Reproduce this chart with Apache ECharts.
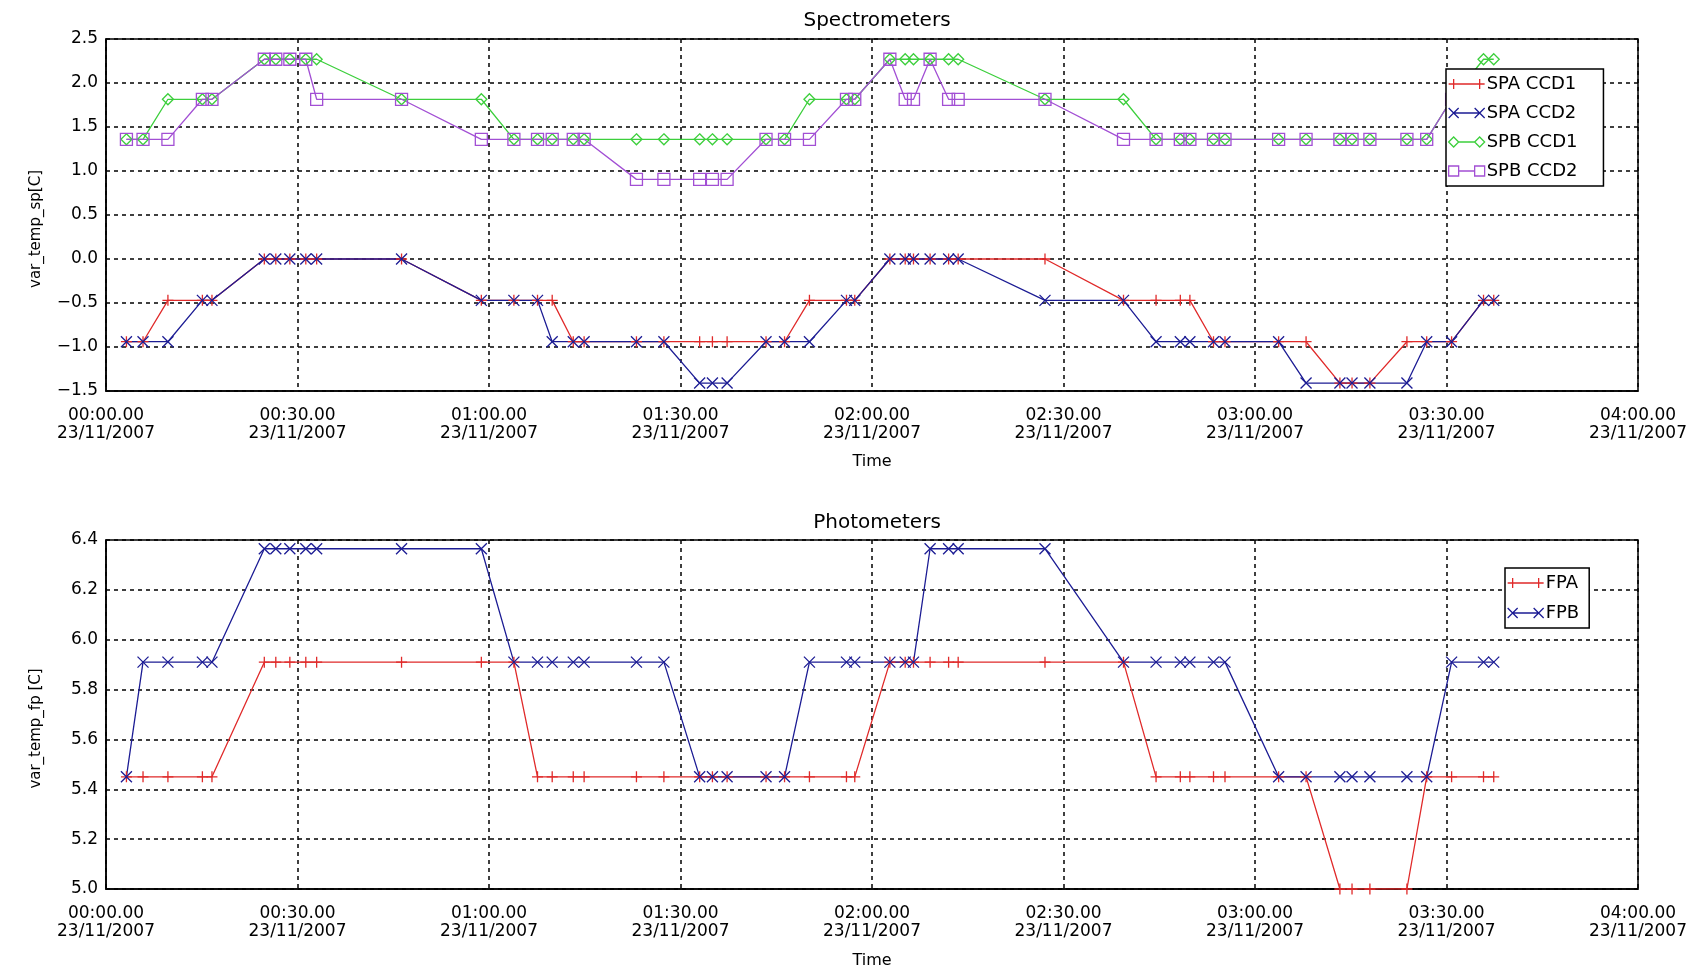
<!DOCTYPE html>
<html>
<head>
<meta charset="utf-8">
<script src="https://cdn.jsdelivr.net/npm/echarts@6/dist/echarts.min.js"></script>
<style>
  html, body { margin: 0; padding: 0; background: #fff; }
  #chart { width: 1703px; height: 971px; }
</style>
</head>
<body>
<div id="chart"></div>
<script>
// ---- Data (time in minutes after 00:00 on 23/11/2007) ----
const times = [3.2, 5.8, 9.7, 15.1, 16.6, 24.8, 26.6, 28.8, 31.3, 33.0,
  46.3, 58.8, 63.9, 67.6, 69.9, 73.2, 74.9, 83.1, 87.4, 93.0,
  95.0, 97.3, 103.4, 106.3, 110.2, 116.0, 117.3, 122.8, 125.2, 126.5,
  129.1, 132.0, 133.5, 147.1, 159.4, 164.5, 168.3, 169.8, 173.5, 175.3,
  183.7, 188.0, 193.3, 195.2, 198.0, 203.8, 206.9, 210.8, 215.8, 217.4];

const spaCcd1 = [-0.94, -0.94, -0.47, -0.47, -0.47, 0, 0, 0, 0, 0,
  0, -0.47, -0.47, -0.47, -0.47, -0.94, -0.94, -0.94, -0.94, -0.94,
  -0.94, -0.94, -0.94, -0.94, -0.47, -0.47, -0.47, 0, 0, 0,
  0, 0, 0, 0, -0.47, -0.47, -0.47, -0.47, -0.94, -0.94,
  -0.94, -0.94, -1.41, -1.41, -1.41, -0.94, -0.94, -0.94, -0.47, -0.47];

const spaCcd2 = [-0.94, -0.94, -0.94, -0.47, -0.47, 0, 0, 0, 0, 0,
  0, -0.47, -0.47, -0.47, -0.94, -0.94, -0.94, -0.94, -0.94, -1.41,
  -1.41, -1.41, -0.94, -0.94, -0.94, -0.47, -0.47, 0, 0, 0,
  0, 0, 0, -0.47, -0.47, -0.94, -0.94, -0.94, -0.94, -0.94,
  -0.94, -1.41, -1.41, -1.41, -1.41, -1.41, -0.94, -0.94, -0.47, -0.47];

const spbCcd1 = [1.36, 1.36, 1.815, 1.815, 1.815, 2.27, 2.27, 2.27, 2.27, 2.27,
  1.815, 1.815, 1.36, 1.36, 1.36, 1.36, 1.36, 1.36, 1.36, 1.36,
  1.36, 1.36, 1.36, 1.36, 1.815, 1.815, 1.815, 2.27, 2.27, 2.27,
  2.27, 2.27, 2.27, 1.815, 1.815, 1.36, 1.36, 1.36, 1.36, 1.36,
  1.36, 1.36, 1.36, 1.36, 1.36, 1.36, 1.36, 1.815, 2.27, 2.27];

const spbCcd2 = [1.36, 1.36, 1.36, 1.815, 1.815, 2.27, 2.27, 2.27, 2.27, 1.815,
  1.815, 1.36, 1.36, 1.36, 1.36, 1.36, 1.36, 0.905, 0.905, 0.905,
  0.905, 0.905, 1.36, 1.36, 1.36, 1.815, 1.815, 2.27, 1.815, 1.815,
  2.27, 1.815, 1.815, 1.815, 1.36, 1.36, 1.36, 1.36, 1.36, 1.36,
  1.36, 1.36, 1.36, 1.36, 1.36, 1.36, 1.36, 1.815, 1.815, 1.815];

const fpa = [5.45, 5.45, 5.45, 5.45, 5.45, 5.91, 5.91, 5.91, 5.91, 5.91,
  5.91, 5.91, 5.91, 5.45, 5.45, 5.45, 5.45, 5.45, 5.45, 5.45,
  5.45, 5.45, 5.45, 5.45, 5.45, 5.45, 5.45, 5.91, 5.91, 5.91,
  5.91, 5.91, 5.91, 5.91, 5.91, 5.45, 5.45, 5.45, 5.45, 5.45,
  5.45, 5.45, 5.0, 5.0, 5.0, 5.0, 5.45, 5.45, 5.45, 5.45];

const fpb = [5.45, 5.91, 5.91, 5.91, 5.91, 6.365, 6.365, 6.365, 6.365, 6.365,
  6.365, 6.365, 5.91, 5.91, 5.91, 5.91, 5.91, 5.91, 5.91, 5.45,
  5.45, 5.45, 5.45, 5.45, 5.91, 5.91, 5.91, 5.91, 5.91, 5.91,
  6.365, 6.365, 6.365, 6.365, 5.91, 5.91, 5.91, 5.91, 5.91, 5.91,
  5.45, 5.45, 5.45, 5.45, 5.45, 5.45, 5.45, 5.91, 5.91, 5.91];

const xTicks = [0, 30, 60, 90, 120, 150, 180, 210, 240];
const dateLabel = '23/11/2007';
const topSeriesNames = ['SPA CCD1', 'SPA CCD2', 'SPB CCD1', 'SPB CCD2'];
const bottomSeriesNames = ['FPA', 'FPB'];

// ---- Styles ----
const RED = '#e02a2a', BLUE = '#1c1c94', GREEN = '#3ccf3c', PURPLE = '#a24fd4';
const FONT = 'DejaVu Sans';
const SYM = {
  plus: 'path://M5,0L5,10M0,5L10,5',
  cross: 'path://M0,0L10,10M10,0L0,10',
  diamond: 'path://M5,0L10,5L5,10L0,5Z',
  square: 'path://M0,0L10,0L10,10L0,10Z'
};
const ICON = {
  plus: 'path://M5,0L5,10M0,5L36,5M31,0L31,10',
  cross: 'path://M0,0L10,10M10,0L0,10M5,5L31,5M26,0L36,10M36,0L26,10',
  diamond: 'path://M0,5L5,0L10,5L5,10ZM10,5L26,5M26,5L31,0L36,5L31,10Z',
  square: 'path://M0,0L10,0L10,10L0,10ZM10,5L26,5M26,0L36,0L36,10L26,10Z'
};

function pad2(n) { return (n < 10 ? '0' : '') + n; }
function timeLabel(v) {
  const h = Math.floor(v / 60), m = Math.round(v % 60);
  return pad2(h) + ':' + pad2(m) + '.00\n' + dateLabel;
}
function yLabel(v) { return v.toFixed(1).replace('-', '\u2212'); }
function pairs(vals) { return times.map((t, i) => [t, vals[i]]); }

function mkSeries(name, vals, color, sym, size, xi) {
  return {
    name: name, type: 'line', xAxisIndex: xi, yAxisIndex: xi,
    data: pairs(vals),
    symbol: SYM[sym], symbolSize: size, showSymbol: true,
    lineStyle: { color: color, width: 1.3 },
    itemStyle: { color: 'transparent', borderColor: color, borderWidth: 1.3 },
    emphasis: { disabled: true },
    animation: false
  };
}

const gridLine = { show: true, lineStyle: { color: '#000', width: 1.5, type: [4, 4] } };
const grids = [
  { left: 106, right: 65, top: 39, height: 352, show: true, borderColor: '#000', borderWidth: 1.5, backgroundColor: '#fff' },
  { left: 106, right: 65, top: 540, height: 349, show: true, borderColor: '#000', borderWidth: 1.5, backgroundColor: '#fff' }
];

function xAxis(gi, gap) {
  return {
    type: 'value', gridIndex: gi, min: xTicks[0], max: xTicks[xTicks.length - 1], interval: 30,
    name: 'Time', nameLocation: 'middle', nameGap: gap,
    nameTextStyle: { fontFamily: FONT, fontSize: 16, color: '#000' },
    axisLine: { show: true, onZero: false, lineStyle: { color: '#000', width: 1.5 } },
    axisTick: { show: false },
    axisLabel: { formatter: timeLabel, fontFamily: FONT, fontSize: 17, color: '#000', lineHeight: 18, margin: 16 },
    splitLine: gridLine
  };
}

const option = {
  backgroundColor: '#fff',
  animation: false,
  title: [
    { text: 'Spectrometers', left: 872, textAlign: 'center', top: 6,
      textStyle: { fontFamily: FONT, fontSize: 20, fontWeight: 'normal', color: '#000' } },
    { text: 'Photometers', left: 872, textAlign: 'center', top: 508,
      textStyle: { fontFamily: FONT, fontSize: 20, fontWeight: 'normal', color: '#000' } }
  ],
  grid: grids,
  xAxis: [xAxis(0, 63), xAxis(1, 64)],
  yAxis: [
    { type: 'value', gridIndex: 0, min: -1.5, max: 2.5, interval: 0.5,
      name: 'var_temp_sp[C]', nameLocation: 'middle', nameGap: 62,
      nameTextStyle: { fontFamily: FONT, fontSize: 15, color: '#000', padding: [0, 0, 0, -28] },
      axisLine: { show: true, onZero: false, lineStyle: { color: '#000', width: 1.5 } }, axisTick: { show: false },
      axisLabel: { formatter: yLabel, fontFamily: FONT, fontSize: 17, color: '#000', margin: 8 },
      splitLine: gridLine },
    { type: 'value', gridIndex: 1, min: 5.0, max: 6.4, interval: 0.2,
      name: 'var_temp_fp [C]', nameLocation: 'middle', nameGap: 62,
      nameTextStyle: { fontFamily: FONT, fontSize: 15, color: '#000', padding: [0, 0, 0, -28] },
      axisLine: { show: true, onZero: false, lineStyle: { color: '#000', width: 1.5 } }, axisTick: { show: false },
      axisLabel: { formatter: yLabel, fontFamily: FONT, fontSize: 17, color: '#000', margin: 8 },
      splitLine: gridLine }
  ],
  legend: [
    { orient: 'vertical', left: 1446, top: 69, itemWidth: 36, itemHeight: 10, itemGap: 11,
      padding: [6, 26, 6, 2], backgroundColor: '#fff', borderColor: '#000', borderWidth: 1.5,
      selectedMode: false,
      textStyle: { fontFamily: FONT, fontSize: 18, color: '#000', padding: [0, 0, 0, -3] },
      itemStyle: { borderWidth: 1.3 },
      data: [
        { name: topSeriesNames[0], icon: ICON.plus },
        { name: topSeriesNames[1], icon: ICON.cross },
        { name: topSeriesNames[2], icon: ICON.diamond },
        { name: topSeriesNames[3], icon: ICON.square }
      ] },
    { orient: 'vertical', left: 1505, top: 568, itemWidth: 36, itemHeight: 10, itemGap: 12,
      padding: [6, 10, 6, 2], backgroundColor: '#fff', borderColor: '#000', borderWidth: 1.5,
      selectedMode: false,
      textStyle: { fontFamily: FONT, fontSize: 18, color: '#000', padding: [0, 0, 0, -3] },
      itemStyle: { borderWidth: 1.3 },
      data: [
        { name: bottomSeriesNames[0], icon: ICON.plus },
        { name: bottomSeriesNames[1], icon: ICON.cross }
      ] }
  ],
  series: [
    mkSeries(topSeriesNames[0], spaCcd1, RED, 'plus', 11, 0),
    mkSeries(topSeriesNames[1], spaCcd2, BLUE, 'cross', 11, 0),
    mkSeries(topSeriesNames[2], spbCcd1, GREEN, 'diamond', 11, 0),
    mkSeries(topSeriesNames[3], spbCcd2, PURPLE, 'square', 12, 0),
    mkSeries(bottomSeriesNames[0], fpa, RED, 'plus', 11, 1),
    mkSeries(bottomSeriesNames[1], fpb, BLUE, 'cross', 11, 1)
  ]
};

const chart = echarts.init(document.getElementById('chart'), null, { renderer: 'canvas' });
chart.setOption(option);
</script>
</body>
</html>
